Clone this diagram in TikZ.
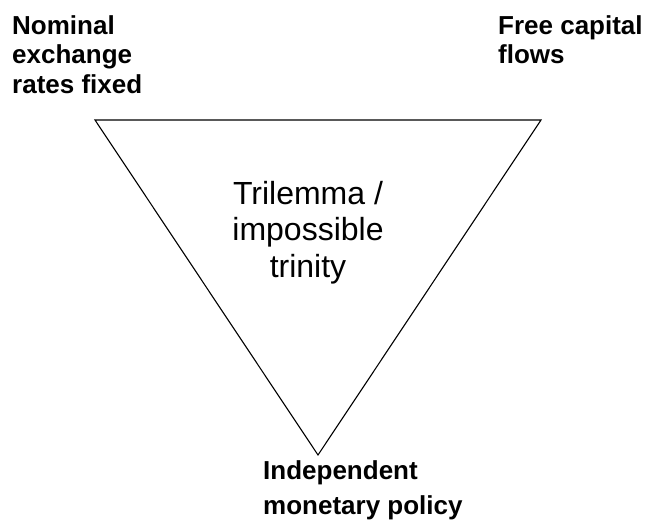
\documentclass[tikz,border=0pt]{standalone}
\usepackage{fontspec}
\setmainfont{Liberation Sans}
\usepackage{tikz}

\begin{document}
\begin{tikzpicture}[x=1pt, y=-1pt,
		corner/.style={inner sep=0pt, anchor=north west, align=left, font=\bfseries\fontsize{26}{29.5}\selectfont},
		centre/.style={inner sep=0pt, anchor=north, align=center, font=\fontsize{32}{36.5}\selectfont}]

		\useasboundingbox (0,0) rectangle (649,520);

		\coordinate (fixed) at (95,120);
		\coordinate (flows) at (541,120);
		\coordinate (policy) at (318,455);

		\draw[line width=1.1pt, line join=miter] (fixed) -- (flows) -- (policy) -- cycle;

		\node[corner] (fixedtxt) at (12,15) {Nominal\\exchange\\rates fixed};
		\node[corner] (flowstxt) at (498,15) {Free capital\\flows};
		\node[centre] (trilemma) at (308,181) {Trilemma /\\impossible\\trinity};
		\node[corner, font=\bfseries\fontsize{26}{35}\selectfont] (policytxt) at (263,460) {Independent\\monetary policy};

	\end{tikzpicture}
\end{document}
